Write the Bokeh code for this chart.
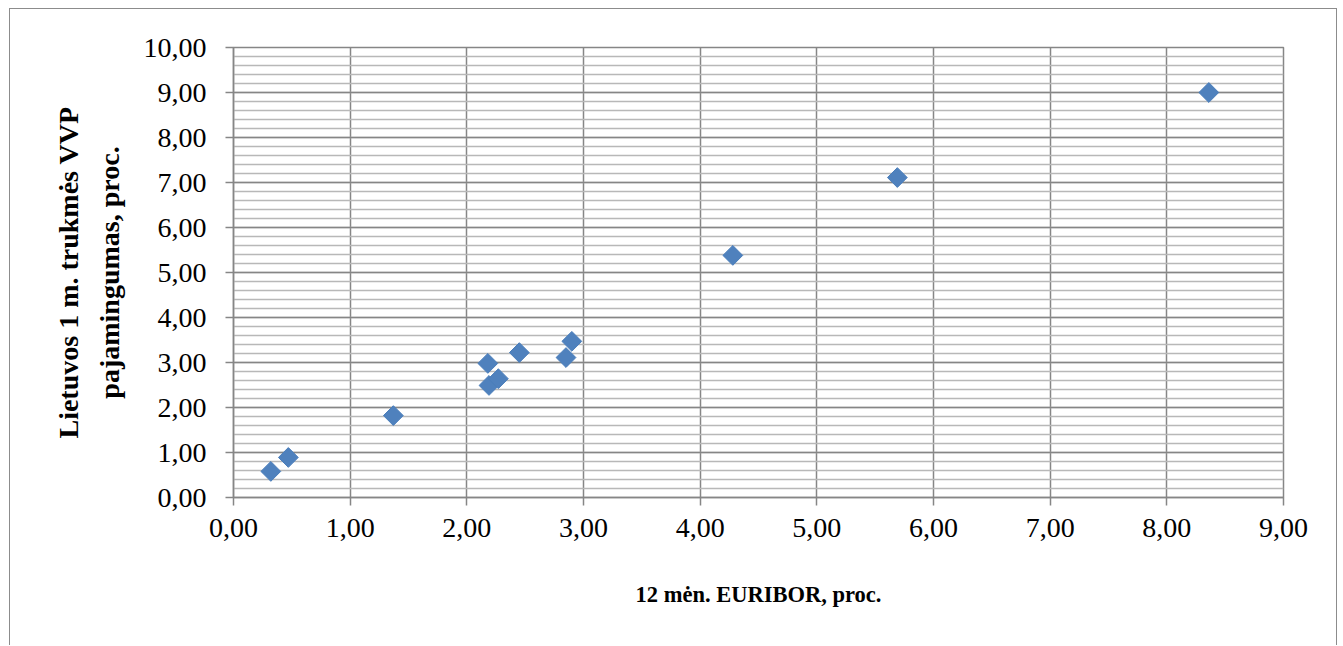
import numpy as np
from bokeh.plotting import figure
from bokeh.models import FixedTicker
from bokeh.embed import file_html
from bokeh.resources import INLINE

# data
euribor = [0.32, 0.47, 1.37, 2.18, 2.19, 2.27, 2.45, 2.85, 2.90, 4.28, 5.69, 8.36]
vvp = [0.58, 0.89, 1.82, 2.98, 2.49, 2.64, 3.22, 3.11, 3.47, 5.38, 7.11, 9.00]
x_ticks = [0, 1, 2, 3, 4, 5, 6, 7, 8, 9]
y_ticks = [0, 1, 2, 3, 4, 5, 6, 7, 8, 9, 10]
y_minor = [round(i * 0.2, 2) for i in range(51)]
x_title = "12 mėn. EURIBOR, proc."
y_title = "Lietuvos 1 m. trukmės VVP\npajamingumas, proc."

def fmt(v):
    return f"{v:.2f}".replace(".", ",")

GRID = "#868686"
OFFX, OFFY = 10, 9  # figure element position inside window (margin + border)
p = figure(width=1343 - OFFX - 5, height=646 - OFFY, output_backend="svg", toolbar_location=None,
           x_range=(0, 9), y_range=(0, 10),
           min_border_left=233 - OFFX, min_border_right=55,
           min_border_top=47 - OFFY, min_border_bottom=646 - 497)
p.styles = {"margin-left": "9px", "margin-top": "8px",
            "border-left": "1.5px solid #8c8c8c", "border-top": "1.5px solid #8c8c8c",
            "border-right": "1.5px solid #8c8c8c"}
p.background_fill_color = "white"
p.border_fill_color = "white"
p.outline_line_color = GRID
p.outline_line_width = 1.5

p.xaxis.ticker = FixedTicker(ticks=x_ticks)
p.yaxis.ticker = FixedTicker(ticks=y_ticks, minor_ticks=y_minor)
p.xaxis.major_label_overrides = {t: fmt(t) for t in x_ticks}
p.yaxis.major_label_overrides = {t: fmt(t) for t in y_ticks}

for ax in (p.xaxis, p.yaxis):
    ax.axis_line_color = GRID
    ax.axis_line_width = 1.5
    ax.major_tick_line_color = GRID
    ax.major_tick_line_width = 1.5
    ax.major_tick_in = 0
    ax.major_tick_out = 8
    ax.minor_tick_line_color = None
    ax.major_label_text_font = "Liberation Serif"
    ax.major_label_text_font_size = "28px"
    ax.major_label_text_color = "black"
    ax.axis_label_text_font = "Liberation Serif"
    ax.axis_label_text_font_style = "bold"
    ax.axis_label_text_color = "black"

p.xaxis.axis_label_text_font_size = "22.5px"
p.yaxis.axis_label_text_font_size = "28px"
p.yaxis.axis_label_text_line_height = 1.3

p.xaxis.major_label_standoff = 13
p.yaxis.major_label_standoff = 19
p.xaxis.axis_label = x_title
p.yaxis.axis_label = y_title
p.xaxis.axis_label_standoff = 42
p.yaxis.axis_label_standoff = 16

p.xgrid.ticker = FixedTicker(ticks=x_ticks)
p.xgrid.grid_line_color = GRID
p.xgrid.grid_line_width = 1.5
p.ygrid.ticker = FixedTicker(ticks=y_ticks, minor_ticks=y_minor)
p.ygrid.grid_line_color = GRID
p.ygrid.grid_line_width = 1.5
p.ygrid.minor_grid_line_color = "#b8b8b8"
p.ygrid.minor_grid_line_width = 1.5

p.scatter(euribor, vvp, marker="square", angle=np.pi / 4, size=14,
          fill_color="#4F81BD", line_color="#4A7EBB", line_width=1)

open("out.html", "w").write(file_html(p, INLINE))
